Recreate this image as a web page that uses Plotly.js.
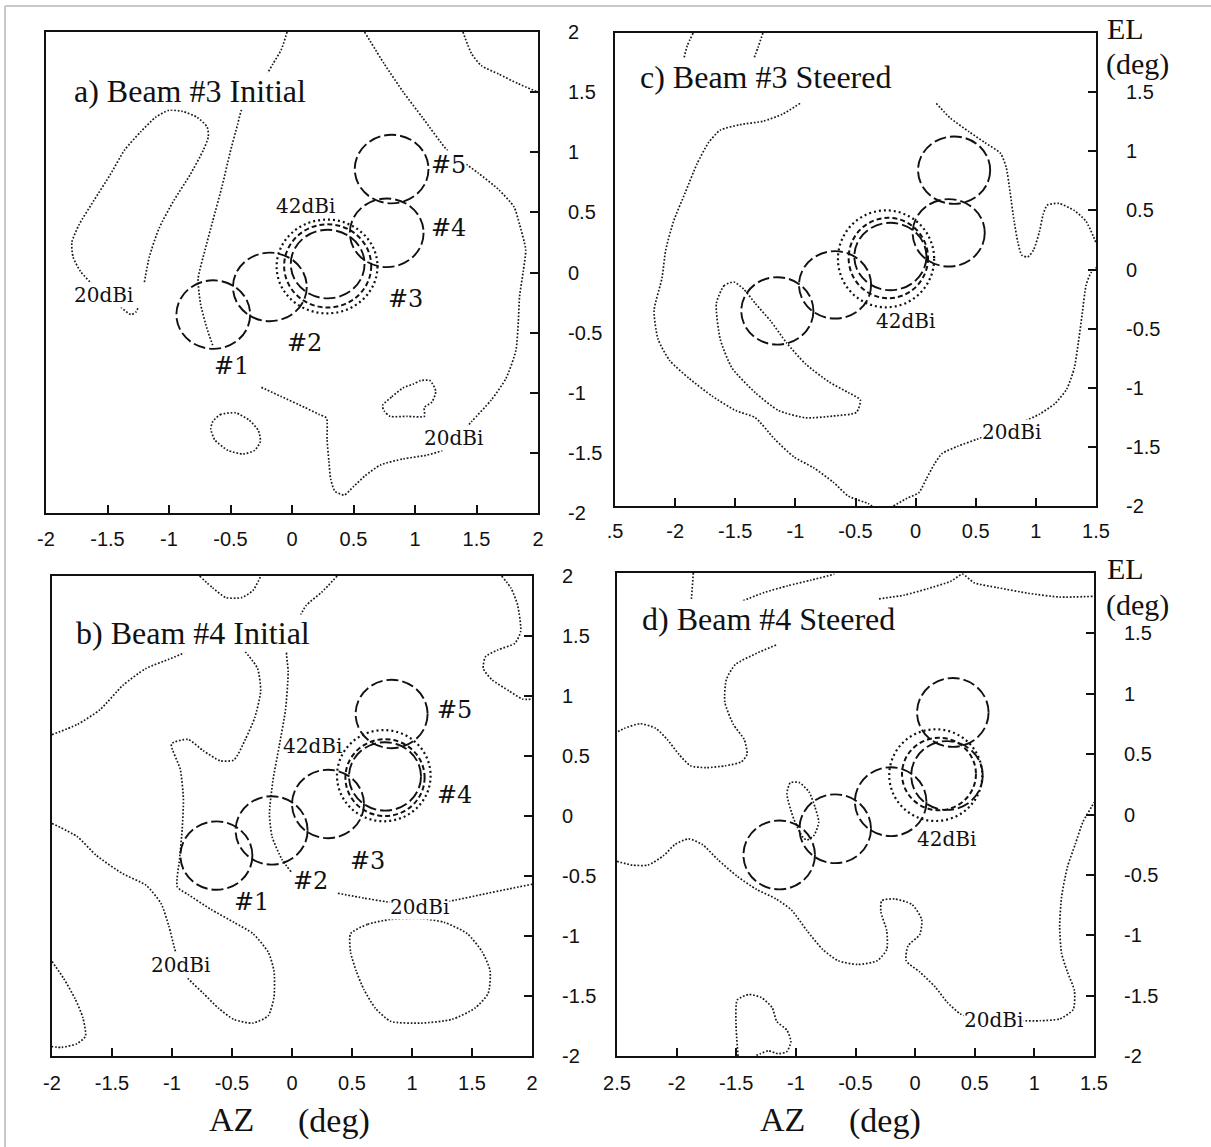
<!DOCTYPE html>
<html>
<head>
<meta charset="utf-8">
<script src="https://cdn.plot.ly/plotly-3.0.1.min.js"></script>
<style>html,body{margin:0;padding:0;background:#fff;}#chart{width:1211px;height:1147px;}</style>
</head>
<body>
<div id="chart"></div>
<script>
// ---------------- tick labels ----------------
const azTickValsAB = [-2, -1.5, -1, -0.5, 0, 0.5, 1, 1.5, 2];
const azTickTextAB = ['-2', '-1.5', '-1', '-0.5', '0', '0.5', '1', '1.5', '2'];
const azTickValsCD = [-2.5, -2, -1.5, -1, -0.5, 0, 0.5, 1, 1.5];
const azTickTextC = ['.5', '-2', '-1.5', '-1', '-0.5', '0', '0.5', '1', '1.5'];
const azTickTextD = ['2.5', '-2', '-1.5', '-1', '-0.5', '0', '0.5', '1', '1.5'];
const elTickVals = [-2, -1.5, -1, -0.5, 0, 0.5, 1, 1.5, 2];
const elTickTextAB = ['-2', '-1.5', '-1', '-0.5', '0', '0.5', '1', '1.5', '2'];
const elTickTextCD = ['-2', '-1.5', '-1', '-0.5', '0', '0.5', '1', '1.5', ''];

// ---------------- panel titles ----------------
const panelTitles = ['a) Beam #3 Initial', 'c) Beam #3 Steered', 'b) Beam #4 Initial', 'd) Beam #4 Steered'];
const beamNames = ['#1', '#2', '#3', '#4', '#5'];

// ---------------- beam centres (AZ, EL in deg) ----------------
const beamAzA = [-0.64, -0.18, 0.29, 0.77, 0.81];
const beamElA = [-0.35, -0.12, 0.07, 0.33, 0.86];
const beamAzB = [-0.63, -0.17, 0.30, 0.775, 0.83];
const beamElB = [-0.33, -0.12, 0.10, 0.33, 0.85];
const beamAzC = [-1.15, -0.67, -0.21, 0.275, 0.32];
const beamElC = [-0.35, -0.13, 0.11, 0.31, 0.84];
const beamAzD = [-1.14, -0.67, -0.205, 0.267, 0.316];
const beamElD = [-0.335, -0.118, 0.106, 0.323, 0.845];
const beamRadAz = 0.30;
const beamRadEl = 0.285;

// ---------------- 42dBi rings: [centreAz, centreEl, radAz, radEl] outer dotted, inner dashed ----------------
const ring42OuterA = [0.285, 0.05, 0.41, 0.39];
const ring42InnerA = [0.29, 0.055, 0.354, 0.346];
const ring42OuterB = [0.765, 0.336, 0.39, 0.38];
const ring42InnerB = [0.775, 0.32, 0.33, 0.32];
const ring42OuterC = [-0.246, 0.09, 0.40, 0.41];
const ring42InnerC = [-0.227, 0.097, 0.33, 0.34];
const ring42OuterD = [0.173, 0.326, 0.39, 0.38];
const ring42InnerD = [0.20, 0.335, 0.31, 0.30];

// ---------------- 20dBi contour lines ----------------
const contoursAzA = [
  [-0.04, -0.087, -0.155, -0.242, -0.397, -0.443, -0.505, -0.567, -0.645, -0.707, -0.763, -0.744, -0.691, -0.639],
  [-1.20, -1.16, -1.08, -0.96, -0.83, -0.72, -0.68, -0.69, -0.77, -0.89, -1.00, -1.11, -1.23, -1.36, -1.48, -1.61, -1.73, -1.79, -1.78, -1.72, -1.61, -1.48, -1.39, -1.31, -1.27, -1.25],
  [0.59, 0.75, 0.905, 1.06, 1.26, 1.39, 1.51, 1.68, 1.805, 1.85, 1.90, 1.88, 1.85, 1.84, 1.82, 1.74, 1.62, 1.46, 1.34, 1.22, 1.09, 0.905, 0.72, 0.595, 0.50, 0.425, 0.35, 0.315, 0.30, 0.285, 0.28, 0.22, 0.10, -0.09, -0.26],
  [1.39, 1.46, 1.54, 1.68, 1.84, 2.0],
  [-0.645, -0.583, -0.459, -0.35, -0.273, -0.257, -0.304, -0.397, -0.521, -0.629, -0.66, -0.645],
  [0.735, 0.812, 0.905, 0.983, 1.045, 1.122, 1.169, 1.138, 1.076, 1.076, 0.936, 0.797, 0.75, 0.735]
];
const contoursElA = [
  [2.0, 1.854, 1.735, 1.586, 1.393, 1.229, 0.991, 0.723, 0.426, 0.188, -0.051, -0.259, -0.467, -0.622],
  [-0.08, 0.13, 0.37, 0.60, 0.81, 1.02, 1.13, 1.21, 1.29, 1.34, 1.35, 1.29, 1.17, 1.02, 0.81, 0.60, 0.40, 0.25, 0.13, 0.01, -0.11, -0.20, -0.29, -0.35, -0.33, -0.29],
  [2.0, 1.735, 1.50, 1.29, 1.02, 0.92, 0.83, 0.69, 0.545, 0.40, 0.19, 0.01, -0.20, -0.41, -0.65, -0.88, -1.06, -1.24, -1.375, -1.48, -1.52, -1.55, -1.60, -1.69, -1.78, -1.85, -1.82, -1.72, -1.57, -1.39, -1.21, -1.18, -1.12, -1.03, -0.95],
  [2.0, 1.82, 1.72, 1.65, 1.57, 1.50],
  [-1.241, -1.182, -1.167, -1.226, -1.315, -1.405, -1.479, -1.509, -1.479, -1.39, -1.301, -1.241],
  [-1.107, -1.033, -0.958, -0.929, -0.899, -0.899, -0.988, -1.077, -1.122, -1.196, -1.196, -1.196, -1.152, -1.107]
];

const contoursAzB = [
  [-0.77, -0.66, -0.55, -0.42, -0.325, -0.26],
  [0.376, 0.249, 0.115, 0.025, -0.045, -0.032, -0.054, -0.108, -0.159, -0.188, -0.166, -0.086, -0.006],
  [1.747, 1.826, 1.88, 1.906, 1.858, 1.715, 1.613, 1.594, 1.667, 1.81, 1.922, 2.0],
  [-2.0, -1.791, -1.6, -1.409, -1.218, -1.026, -0.899],
  [-2.0, -1.791, -1.632, -1.409, -1.218, -1.09, -1.026, -0.978, -0.931, -0.867, -0.739, -0.612, -0.484, -0.325, -0.198, -0.15, -0.15, -0.198, -0.325, -0.484, -0.676, -0.867, -0.956, -0.937, -0.915, -0.905, -0.931, -1.004, -0.867, -0.739, -0.596, -0.484, -0.389, -0.309, -0.261, -0.287, -0.389],
  [0.382, 0.599, 0.79, 1.061, 1.364, 1.587, 1.81, 2.0],
  [0.488, 0.631, 0.822, 1.077, 1.269, 1.46, 1.587, 1.651, 1.635, 1.524, 1.332, 1.077, 0.822, 0.695, 0.599, 0.535, 0.488, 0.488],
  [-2.0, -1.903, -1.807, -1.743, -1.721, -1.791, -1.919, -2.0]
];
const contoursElB = [
  [2.0, 1.90, 1.82, 1.82, 1.88, 2.0],
  [2.0, 1.866, 1.751, 1.571, 1.384, 1.197, 0.886, 0.575, 0.295, 0.016, -0.171, -0.358, -0.467],
  [2.0, 1.897, 1.757, 1.54, 1.44, 1.384, 1.328, 1.229, 1.135, 1.042, 0.974, 0.974],
  [0.678, 0.762, 0.886, 1.089, 1.229, 1.306, 1.359],
  [-0.062, -0.171, -0.327, -0.482, -0.575, -0.731, -0.918, -1.104, -1.244, -1.353, -1.477, -1.602, -1.695, -1.726, -1.664, -1.509, -1.291, -1.135, -0.98, -0.886, -0.778, -0.653, -0.591, -0.358, -0.109, 0.14, 0.389, 0.6, 0.638, 0.544, 0.46, 0.467, 0.638, 0.824, 1.042, 1.229, 1.369],
  [-0.644, -0.684, -0.715, -0.747, -0.7, -0.653, -0.607, -0.569],
  [-0.98, -0.902, -0.862, -0.855, -0.886, -0.98, -1.135, -1.291, -1.477, -1.602, -1.695, -1.726, -1.711, -1.602, -1.446, -1.291, -1.135, -0.98],
  [-1.213, -1.353, -1.524, -1.68, -1.835, -1.897, -1.928, -1.922]
];

const contoursAzC = [
  [-1.85, -1.90, -1.93],
  [-1.27, -1.31, -1.35],
  [-0.961, -1.107, -1.269, -1.463, -1.625, -1.722, -1.819, -1.916, -2.013, -2.078, -2.11, -2.175, -2.142, -2.045, -1.883, -1.689, -1.495, -1.333, -1.172, -1.01, -0.848, -0.686, -0.557, -0.395, -0.362],
  [-0.184, -0.071, 0.026, 0.091, 0.155, 0.22, 0.35, 0.511, 0.706, 0.9, 1.029, 1.159, 1.256, 1.32, 1.353, 1.385, 1.417, 1.456, 1.5],
  [0.172, 0.285, 0.447, 0.576, 0.706, 0.754, 0.786, 0.819, 0.851, 0.883, 0.932, 0.981, 1.029, 1.061, 1.094, 1.191, 1.32, 1.417, 1.5],
  [-1.511, -1.592, -1.657, -1.625, -1.528, -1.333, -1.139, -0.913, -0.686, -0.492, -0.46, -0.557, -0.718, -0.913, -1.074, -1.204, -1.333, -1.43, -1.511]
];
const contoursElC = [
  [2.0, 1.89, 1.77],
  [2.0, 1.88, 1.77],
  [1.405, 1.314, 1.254, 1.224, 1.178, 1.073, 0.891, 0.65, 0.408, 0.166, -0.076, -0.347, -0.589, -0.77, -0.921, -1.073, -1.193, -1.254, -1.435, -1.586, -1.677, -1.798, -1.918, -1.979, -2.0],
  [-2.0, -1.934, -1.888, -1.767, -1.647, -1.556, -1.495, -1.435, -1.36, -1.284, -1.224, -1.133, -1.012, -0.831, -0.619, -0.378, -0.136, -0.03, 0.015],
  [1.405, 1.284, 1.163, 1.073, 0.982, 0.861, 0.65, 0.408, 0.227, 0.121, 0.106, 0.166, 0.317, 0.468, 0.544, 0.559, 0.498, 0.408, 0.227],
  [-0.106, -0.136, -0.287, -0.589, -0.831, -1.042, -1.193, -1.254, -1.239, -1.208, -1.103, -1.042, -0.952, -0.801, -0.619, -0.438, -0.287, -0.166, -0.106]
];

const contoursAzD = [
  [-1.86, -1.876],
  [-1.443, -1.264, -1.068, -0.873, -0.678],
  [-0.303, -0.091, 0.104, 0.30, 0.397, 0.495, 0.691, 0.951, 1.212, 1.5],
  [-1.166, -1.329, -1.508, -1.583, -1.596, -1.524, -1.433, -1.41, -1.459, -1.59, -1.752, -1.883, -1.98, -2.078, -2.176, -2.306, -2.436, -2.5],
  [-2.5, -2.371, -2.241, -2.111, -2.013, -1.899, -1.785, -1.655, -1.492, -1.329, -1.166, -1.036, -0.906, -0.775, -0.645, -0.482, -0.319, -0.238, -0.238, -0.287, -0.28, -0.173, -0.026, 0.055, 0.039, -0.059, -0.075, 0.039, 0.169, 0.267, 0.381, 0.528, 0.691, 0.886, 1.049, 1.212, 1.326, 1.336, 1.277, 1.228, 1.212, 1.228, 1.277, 1.342, 1.407, 1.479, 1.5],
  [-0.938, -1.02, -1.075, -1.046, -0.971, -0.889, -0.84, -0.808, -0.847, -0.906, -0.938],
  [-1.485, -1.502, -1.492, -1.394, -1.29, -1.199, -1.16, -1.075, -1.042, -1.075, -1.15, -1.231, -1.296, -1.345]
];
const contoursElD = [
  [2.0, 1.786],
  [1.77, 1.839, 1.894, 1.941, 1.99],
  [1.786, 1.817, 1.87, 1.932, 1.99, 1.919, 1.879, 1.832, 1.801, 1.807],
  [1.404, 1.335, 1.242, 1.118, 0.932, 0.745, 0.621, 0.497, 0.435, 0.404, 0.388, 0.404, 0.497, 0.621, 0.714, 0.752, 0.714, 0.683],
  [-0.388, -0.419, -0.419, -0.342, -0.248, -0.202, -0.248, -0.373, -0.512, -0.621, -0.699, -0.792, -0.963, -1.118, -1.211, -1.242, -1.211, -1.118, -0.963, -0.807, -0.714, -0.699, -0.745, -0.87, -0.994, -1.087, -1.211, -1.304, -1.429, -1.553, -1.652, -1.702, -1.708, -1.708, -1.708, -1.693, -1.615, -1.46, -1.304, -1.149, -0.932, -0.683, -0.435, -0.248, -0.062, 0.062, 0.1],
  [-0.193, -0.031, 0.171, 0.264, 0.264, 0.186, 0.062, -0.062, -0.171, -0.211, -0.193],
  [-2.0, -1.739, -1.537, -1.491, -1.516, -1.599, -1.714, -1.786, -1.879, -1.963, -1.981, -1.957, -1.981, -2.0]
];

// ---------------- text labels in data coords ----------------
const beamLabelAzA = [-0.49, 0.10, 0.92, 1.27, 1.27];
const beamLabelElA = [-0.78, -0.59, -0.22, 0.37, 0.89];
const beamLabelAzB = [-0.34, 0.15, 0.63, 1.35, 1.35];
const beamLabelElB = [-0.715, -0.544, -0.373, 0.171, 0.886];
const gainTextA = ['42dBi', '20dBi', '20dBi'];
const gainAzA = [0.11, -1.53, 1.31];
const gainElA = [0.55, -0.19, -1.38];
const gainTextB = ['42dBi', '20dBi', '20dBi'];
const gainAzB = [0.17, -0.93, 1.06];
const gainElB = [0.585, -1.244, -0.756];
const gainTextC = ['42dBi', '20dBi'];
const gainAzC = [-0.087, 0.80];
const gainElC = [-0.438, -1.375];
const gainTextD = ['42dBi', '20dBi'];
const gainAzD = [0.267, 0.658];
const gainElD = [-0.202, -1.702];

// ---------------- build ----------------
const W = 1211, H = 1147;
const px = v => v / W;
const py = v => 1 - v / H;
const INK = '#111111';
const SANS = 'Liberation Sans, Arial, sans-serif';
const SERIF = 'Liberation Serif, Times New Roman, serif';
const LSERIF = 'DejaVu Serif, serif';

const traces = [];
const shapes = [];
const annotations = [];

function addPanel(azArrs, elArrs, xr, yr, beamAz, beamEl, outer, inner) {
  azArrs.forEach((az, i) => {
    traces.push({
      x: az, y: elArrs[i], xaxis: xr, yaxis: yr, type: 'scatter', mode: 'lines',
      line: {color: '#1a1a1a', width: 1.7, dash: '1.7px,1.8px', shape: 'spline', smoothing: 0.6},
      hoverinfo: 'skip', showlegend: false
    });
  });
  beamAz.forEach((c, i) => {
    shapes.push({type: 'circle', xref: xr, yref: yr,
      x0: c - beamRadAz, x1: c + beamRadAz, y0: beamEl[i] - beamRadEl, y1: beamEl[i] + beamRadEl,
      line: {color: INK, width: 1.9, dash: '12px,4px'}});
  });
  shapes.push({type: 'circle', xref: xr, yref: yr,
    x0: outer[0] - outer[2], x1: outer[0] + outer[2], y0: outer[1] - outer[3], y1: outer[1] + outer[3],
    line: {color: INK, width: 2.2, dash: '2px,3px'}});
  shapes.push({type: 'circle', xref: xr, yref: yr,
    x0: inner[0] - inner[2], x1: inner[0] + inner[2], y0: inner[1] - inner[3], y1: inner[1] + inner[3],
    line: {color: INK, width: 2, dash: '5px,3px'}});
}

addPanel(contoursAzA, contoursElA, 'x', 'y', beamAzA, beamElA, ring42OuterA, ring42InnerA);
addPanel(contoursAzC, contoursElC, 'x2', 'y2', beamAzC, beamElC, ring42OuterC, ring42InnerC);
addPanel(contoursAzB, contoursElB, 'x3', 'y3', beamAzB, beamElB, ring42OuterB, ring42InnerB);
addPanel(contoursAzD, contoursElD, 'x4', 'y4', beamAzD, beamElD, ring42OuterD, ring42InnerD);

function addLabels(texts, az, el, xr, yr, size, bgFor) {
  texts.forEach((t, i) => {
    const a = {text: t, x: az[i], y: el[i], xref: xr, yref: yr, showarrow: false,
      font: {family: LSERIF, size: size, color: INK}, xanchor: 'center', yanchor: 'middle', borderpad: 0};
    if (bgFor(t)) a.bgcolor = '#ffffff';
    annotations.push(a);
  });
}
addLabels(beamNames, beamLabelAzA, beamLabelElA, 'x', 'y', 24, () => true);
addLabels(beamNames, beamLabelAzB, beamLabelElB, 'x3', 'y3', 24, () => true);
addLabels(gainTextA, gainAzA, gainElA, 'x', 'y', 20, t => t === '20dBi');
addLabels(gainTextB, gainAzB, gainElB, 'x3', 'y3', 20, t => t === '20dBi');
addLabels(gainTextC, gainAzC, gainElC, 'x2', 'y2', 20, t => t === '20dBi');
addLabels(gainTextD, gainAzD, gainElD, 'x4', 'y4', 20, t => t === '20dBi');

// panel titles
const titlePos = [[73, 91], [639, 77], [75, 633], [641, 619]];
panelTitles.forEach((t, i) => {
  annotations.push({text: t, xref: 'paper', yref: 'paper', x: px(titlePos[i][0]), y: py(titlePos[i][1]),
    xanchor: 'left', yanchor: 'middle', showarrow: false, bgcolor: '#ffffff', borderpad: 0,
    font: {family: SERIF, size: 32, color: INK}});
});

// axis titles
function paperText(t, x, y, size) {
  annotations.push({text: t, xref: 'paper', yref: 'paper', x: px(x), y: py(y), xanchor: 'left', yanchor: 'middle',
    showarrow: false, borderpad: 0, font: {family: SERIF, size: size, color: INK}});
}
paperText('EL', 1106, 29, 30);
paperText('(deg)', 1105, 64, 30);
paperText('EL', 1106, 569, 30);
paperText('(deg)', 1105, 605, 30);
paperText('AZ', 208, 1119, 34);
paperText('(deg)', 297, 1121, 34);
paperText('AZ', 759, 1119, 34);
paperText('(deg)', 848, 1121, 34);

// outer frame of the scanned figure (top and left edges)
shapes.push({type: 'line', xref: 'paper', yref: 'paper', x0: px(5), x1: 1, y0: py(6), y1: py(6), line: {color: '#c8c8c8', width: 2}});
shapes.push({type: 'line', xref: 'paper', yref: 'paper', x0: px(5), x1: px(5), y0: py(6), y1: 0, line: {color: '#c8c8c8', width: 2}});

function xAxis(dom, range, vals, text, anchor, standoff) {
  return {domain: dom, range: range, anchor: anchor, showline: true, mirror: true, linecolor: INK, linewidth: 2,
    ticks: 'inside', ticklen: 8, tickwidth: 2, tickcolor: INK, tickvals: vals, ticktext: text,
    tickfont: {family: SANS, size: 20, color: INK}, ticklabelstandoff: standoff,
    showgrid: false, zeroline: false, fixedrange: true};
}
function yAxis(dom, anchor, text) {
  return {domain: dom, range: [-2, 2], anchor: anchor, side: 'right', showline: true, mirror: true, linecolor: INK, linewidth: 2,
    ticks: 'inside', ticklen: 8, tickwidth: 2, tickcolor: INK, tickvals: elTickVals, ticktext: text,
    tickfont: {family: SANS, size: 20, color: INK}, ticklabelstandoff: 24,
    showgrid: false, zeroline: false, fixedrange: true};
}

const layout = {
  width: W, height: H, margin: {l: 0, r: 0, t: 0, b: 0},
  paper_bgcolor: '#ffffff', plot_bgcolor: 'rgba(0,0,0,0)', showlegend: false,
  xaxis: xAxis([px(46), px(538)], [-2, 2], azTickValsAB, azTickTextAB, 'y', 7),
  yaxis: yAxis([py(513), py(32)], 'x', elTickTextAB),
  xaxis2: xAxis([px(615), px(1096)], [-2.5, 1.5], azTickValsCD, azTickTextC, 'y2', 6),
  yaxis2: yAxis([py(506), py(33)], 'x2', elTickTextCD),
  xaxis3: xAxis([px(52), px(532)], [-2, 2], azTickValsAB, azTickTextAB, 'y3', 8),
  yaxis3: yAxis([py(1056), py(576)], 'x3', elTickTextAB),
  xaxis4: xAxis([px(617), px(1094)], [-2.5, 1.5], azTickValsCD, azTickTextD, 'y4', 8),
  yaxis4: yAxis([py(1056), py(573)], 'x4', elTickTextCD),
  shapes: shapes,
  annotations: annotations
};

Plotly.newPlot('chart', traces, layout, {displayModeBar: false, staticPlot: true});
</script>
</body>
</html>
